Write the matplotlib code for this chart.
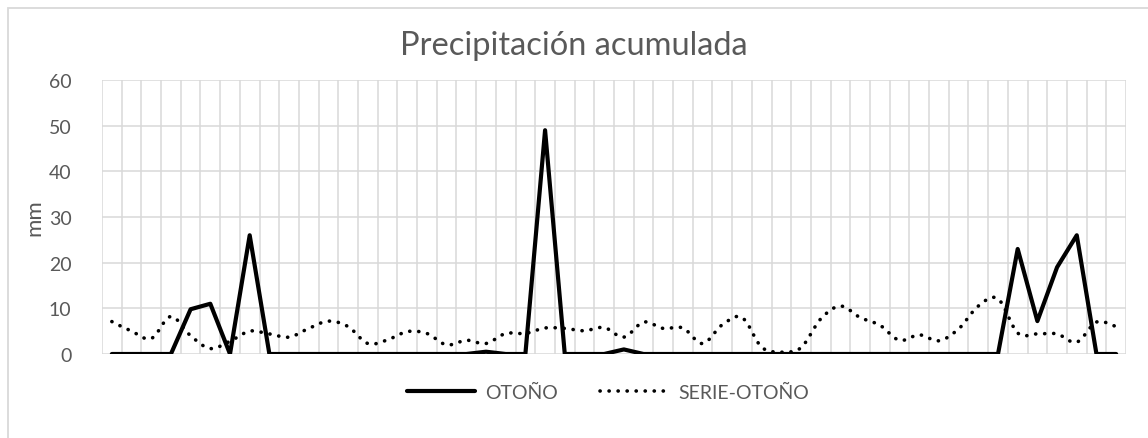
import numpy as np
import matplotlib.pyplot as plt
from matplotlib.path import Path
from matplotlib.patches import PathPatch, Rectangle
from matplotlib.lines import Line2D

plt.rcParams['font.family'] = ['Lato', 'DejaVu Sans']

# weekly accumulated rainfall (mm), 52 categories
otono = [0, 0, 0, 0, 9.8, 11, 0, 26, 0, 0,
         0, 0, 0, 0, 0, 0, 0, 0, 0, 0.5,
         0, 0, 49, 0, 0, 0, 1.0, 0, 0, 0,
         0, 0, 0, 0, 0, 0, 0, 0, 0, 0,
         0, 0, 0, 0, 0, 0, 23, 7.2, 19, 26,
         0, 0]
serie_otono = [7.1, 5.0, 3.4, 8.2, 4.0, 1.2, 2.8, 5.0, 4.4, 3.7,
               5.6, 7.2, 6.0, 2.3, 3.1, 4.9, 4.5, 2.0, 3.0, 2.3,
               4.5, 4.5, 5.7, 5.6, 5.1, 5.8, 3.7, 7.0, 5.6, 5.7,
               2.3, 6.4, 8.0, 1.5, 0.4, 1.4, 7.7, 10.5, 8.0, 6.3,
               3.0, 4.2, 2.9, 5.5, 10.5, 12.1, 4.6, 4.4, 4.4, 2.6,
               7.0, 6.0]
yticks = [0, 10, 20, 30, 40, 50, 60]

GRID = '#d9d9d9'
TXT = '#595959'


def smooth_path(x, y):
    # cubic bezier through every point (catmull-rom style, like a spreadsheet "smoothed line")
    pts = np.column_stack([x, y]).astype(float)
    n = len(pts)
    verts = [pts[0]]
    codes = [Path.MOVETO]
    for i in range(n - 1):
        p0 = pts[max(i - 1, 0)]
        p1 = pts[i]
        p2 = pts[i + 1]
        p3 = pts[min(i + 2, n - 1)]
        c1 = p1 + (p2 - p0) / 6.0
        c2 = p2 - (p3 - p1) / 6.0
        verts += [c1, c2, p2]
        codes += [Path.CURVE4] * 3
    return Path(verts, codes)


fig = plt.figure(figsize=(11.48, 4.39), dpi=100)
ax = fig.add_axes([102 / 1148, 1 - 355 / 439, (1126 - 102) / 1148, (355 - 81) / 439])

x = np.arange(len(otono))
ax.set_xlim(-0.5, len(otono) - 0.5)
ax.set_ylim(0, 60)

# grid: horizontal at major ticks, vertical at category borders
for yv in yticks:
    ax.axhline(yv, color=GRID, lw=1.1, zorder=0)
for xv in np.arange(-0.5, len(otono)):
    ax.axvline(xv, color=GRID, lw=1.1, zorder=0)

ax.plot(x, otono, color='black', lw=3.0, solid_joinstyle='round',
        solid_capstyle='round', zorder=3)

dots = (0, (0.05, 2.45))
ax.add_patch(PathPatch(smooth_path(x, serie_otono), fill=False, edgecolor='black',
                       lw=2.6, linestyle=dots, capstyle='round', zorder=2))

ax.set_yticks(yticks)
ax.set_xticks([])
ax.tick_params(axis='y', length=0, pad=22, labelsize=14, labelcolor=TXT)
for s in ax.spines.values():
    s.set_visible(False)
ax.set_ylabel('mm', fontsize=16, color=TXT, labelpad=3)

fig.suptitle('Precipitación acumulada', x=574 / 1148, y=1 - 46 / 439, va='center',
             fontsize=23.5, color=TXT, fontweight='normal')

handles = [Line2D([], [], color='black', lw=3.0, solid_capstyle='round'),
           Line2D([], [], color='black', lw=2.6, linestyle=dots, dash_capstyle='round')]
fig.legend(handles, ['OTOÑO', 'SERIE-OTOÑO'], loc='center', ncol=2,
           bbox_to_anchor=(608 / 1148, 1 - 393 / 439), frameon=False,
           fontsize=14, labelcolor=TXT, handlelength=3.5, handletextpad=0.5,
           columnspacing=2.2)

# chart area border
fig.patches.append(Rectangle((8 / 1148, -0.05), 1.05, 1 - 9 / 439 + 0.05,
                             transform=fig.transFigure, fill=False,
                             edgecolor=GRID, lw=1.3, zorder=-1))

fig.savefig('out.png', dpi=100)
